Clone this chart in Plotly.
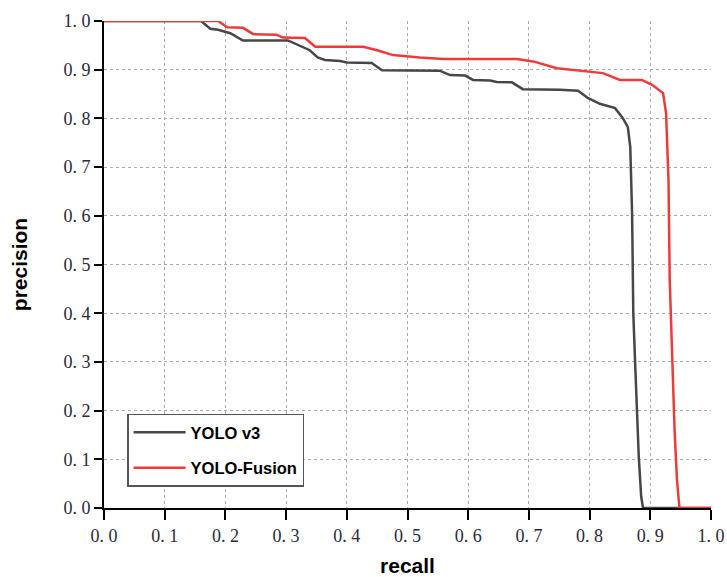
import plotly.graph_objects as go

recall_v3 = [0.0, 0.16, 0.175, 0.188, 0.208, 0.229, 0.303, 0.32, 0.339, 0.352, 0.364, 0.389, 0.40,
             0.441, 0.458, 0.553, 0.57, 0.595, 0.608, 0.636, 0.647, 0.672, 0.69, 0.751, 0.781,
             0.797, 0.817, 0.842, 0.855, 0.863, 0.867, 0.870, 0.872, 0.875, 0.878, 0.881, 0.885,
             0.888, 1.0]
prec_v3 = [1.0, 1.0, 0.984, 0.982, 0.975, 0.96, 0.96, 0.95, 0.94, 0.925, 0.92, 0.918, 0.915,
           0.914, 0.899, 0.898, 0.889, 0.888, 0.879, 0.878, 0.875, 0.874, 0.86, 0.859, 0.857,
           0.842, 0.83, 0.821, 0.80, 0.782, 0.741, 0.605, 0.40, 0.298, 0.195, 0.105, 0.023,
           0.0, 0.0]

recall_fusion = [0.0, 0.188, 0.203, 0.229, 0.246, 0.284, 0.295, 0.331, 0.348, 0.427, 0.45, 0.476,
                 0.52, 0.559, 0.68, 0.707, 0.746, 0.796, 0.822, 0.85, 0.886, 0.903, 0.921, 0.926,
                 0.930, 0.932, 0.936, 0.940, 0.944, 0.948, 1.0]
prec_fusion = [1.0, 1.0, 0.987, 0.986, 0.973, 0.972, 0.966, 0.965, 0.947, 0.947, 0.94, 0.930,
               0.925, 0.922, 0.922, 0.917, 0.903, 0.897, 0.893, 0.879, 0.879, 0.869, 0.852, 0.811,
               0.673, 0.468, 0.298, 0.16, 0.057, 0.0, 0.0]

tick_vals = [0.0, 0.1, 0.2, 0.3, 0.4, 0.5, 0.6, 0.7, 0.8, 0.9, 1.0]
tick_text = ["0. 0", "0. 1", "0. 2", "0. 3", "0. 4", "0. 5", "0. 6", "0. 7", "0. 8", "0. 9", "1. 0"]

fig = go.Figure()
fig.add_trace(go.Scatter(x=recall_v3, y=prec_v3, mode="lines", name="YOLO v3",
                         line=dict(color="#474747", width=2.5), cliponaxis=False,
                         legendgroup="a"))
fig.add_trace(go.Scatter(x=recall_fusion, y=prec_fusion, mode="lines", name="YOLO-Fusion",
                         line=dict(color="#f03a3a", width=2.5), cliponaxis=False,
                         legendgroup="b"))

axis_common = dict(
    range=[0, 1], tickvals=tick_vals, ticktext=tick_text, automargin=False,
    showline=True, linecolor="black", linewidth=2,
    ticks="outside", tickcolor="black", tickwidth=2,
    showgrid=True, gridcolor="#ababab", griddash="3px,3px", gridwidth=1,
    zeroline=False,
    tickfont=dict(family="Liberation Serif, DejaVu Serif, serif", size=18, color="#2a2a3a"),
)

fig.update_xaxes(**axis_common, ticklen=10,
                 title=dict(text="<b>recall</b>", standoff=18,
                            font=dict(family="Liberation Sans, Arial, sans-serif", size=21, color="black")))
fig.update_yaxes(**axis_common, ticklen=8,
                 title=dict(text="<b>precision</b>", standoff=30,
                            font=dict(family="Liberation Sans, Arial, sans-serif", size=21, color="black")))

fig.update_layout(
    width=727, height=577,
    margin=dict(l=104, r=16, t=21, b=69),
    plot_bgcolor="white", paper_bgcolor="white",
    showlegend=True,
    legend=dict(x=0.038, y=0.194, xanchor="left", yanchor="top",
                bordercolor="#555", borderwidth=1.5, bgcolor="white",
                tracegroupgap=11, itemwidth=52,
                font=dict(family="Liberation Sans, Arial, sans-serif", size=16.5, color="black",
                          weight="bold")),
)

fig.write_html("out.html", config={"displayModeBar": False},
               post_script="document.body.style.margin='0';document.body.style.overflow='hidden';")
